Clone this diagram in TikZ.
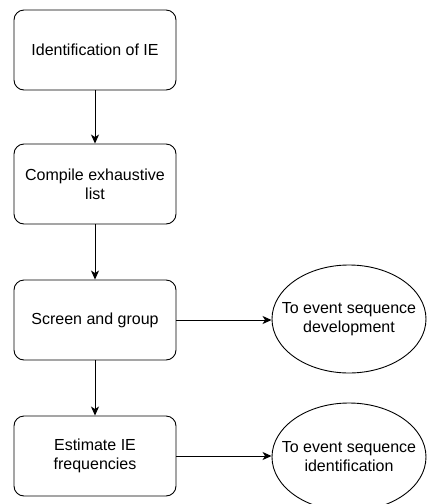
\documentclass[tikz,border=0pt]{standalone}
\usepackage{fontspec}
\setmainfont{Liberation Sans}
\usetikzlibrary{arrows.meta,shapes.geometric}
\begin{document}
\begin{tikzpicture}[x=1pt,y=-1pt,
  stepbox/.style={draw, rounded corners=10pt, minimum width=162pt, minimum height=80pt,
    align=center, inner sep=0pt, font=\fontsize{16}{19}\selectfont, line width=0.9pt},
  target/.style={draw, ellipse, minimum width=154pt, minimum height=108pt,
    align=center, font=\fontsize{16}{19}\selectfont, line width=0.9pt,
    inner xsep=-16pt, inner ysep=0pt},
  flow/.style={-{Stealth[length=9pt,width=8pt,inset=2.5pt]}, line width=0.9pt}]
\useasboundingbox (0,0) rectangle (427,504);
\node[stepbox] (ident) at (95,50) {Identification of IE};
\node[stepbox] (compile) at (95,184) {Compile exhaustive\\list};
\node[stepbox] (screen) at (95,320) {Screen and group};
\node[stepbox] (estimate) at (95,456) {Estimate IE\\frequencies};
\node[target] (dev) at (349,319) {To event sequence\\development};
\node[target] (idn) at (349,457) {To event sequence\\identification};
\draw[flow] (ident) -- (compile);
\draw[flow] (compile) -- (screen);
\draw[flow] (screen) -- (estimate);
\draw[flow] (screen) -- (screen -| dev.west);
\draw[flow] (estimate) -- (estimate -| idn.west);
\end{tikzpicture}
\end{document}
